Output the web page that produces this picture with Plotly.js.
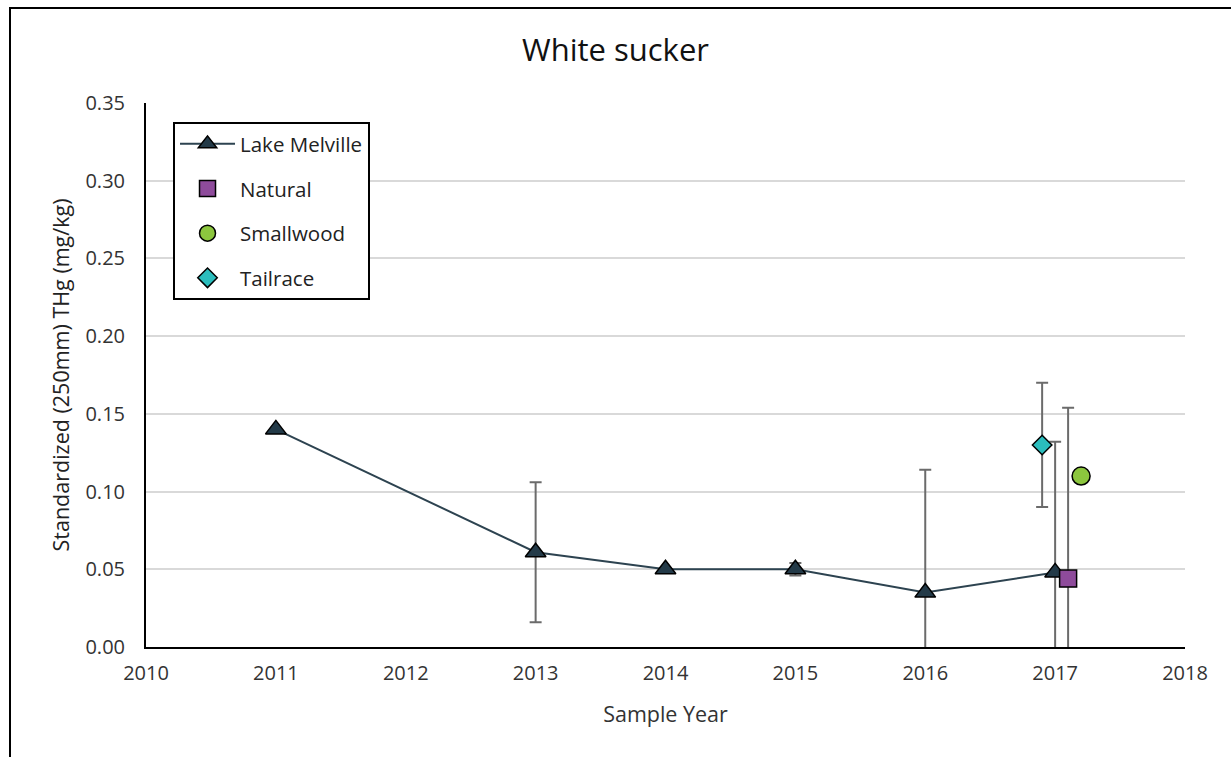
<!DOCTYPE html>
<html>
<head>
<meta charset="utf-8">
<script src="https://cdn.plot.ly/plotly-3.0.1.min.js"></script>
<style>
  html, body { margin: 0; padding: 0; background: #fff; }
  #chart { width: 1231px; height: 757px; }
</style>
</head>
<body>
<div id="chart"></div>
<script>
// Lake Melville series
const lakeYears = [2011, 2013, 2014, 2015, 2016, 2017];
const lakeValues = [0.140, 0.061, 0.050, 0.050, 0.035, 0.048];
const lakeErrors = [0, 0.045, 0, 0.004, 0.079, 0.084];

// Single-site series (offset slightly around 2017)
const naturalYears = [2017.1];
const naturalValues = [0.044];
const naturalErrors = [0.110];

const smallwoodYears = [2017.2];
const smallwoodValues = [0.110];

const tailraceYears = [2016.9];
const tailraceValues = [0.130];
const tailraceErrors = [0.040];

const xTicks = [2010, 2011, 2012, 2013, 2014, 2015, 2016, 2017, 2018];
const yTicks = [0, 0.05, 0.10, 0.15, 0.20, 0.25, 0.30, 0.35];

const errStyle = { type: 'data', visible: true, color: '#6b6b6b', thickness: 2, width: 6 };

const traces = [
  {
    x: lakeYears, y: lakeValues, name: 'Lake Melville', legendgroup: 'a',
    type: 'scatter', mode: 'lines+markers',
    line: { color: '#2d4350', width: 2 },
    marker: { symbol: 'triangle-up', size: 18, color: '#233a48', line: { color: '#000', width: 1.5 } },
    error_y: Object.assign({ array: lakeErrors }, errStyle)
  },
  {
    x: naturalYears, y: naturalValues, name: 'Natural', legendgroup: 'b',
    type: 'scatter', mode: 'markers',
    marker: { symbol: 'square', size: 17, color: '#8e4b9b', line: { color: '#000', width: 1.5 } },
    error_y: Object.assign({ array: naturalErrors }, errStyle)
  },
  {
    x: smallwoodYears, y: smallwoodValues, name: 'Smallwood', legendgroup: 'c',
    type: 'scatter', mode: 'markers',
    marker: { symbol: 'circle', size: 18, color: '#8cc63e', line: { color: '#000', width: 1.5 } }
  },
  {
    x: tailraceYears, y: tailraceValues, name: 'Tailrace', legendgroup: 'd',
    type: 'scatter', mode: 'markers',
    marker: { symbol: 'diamond', size: 15, color: '#2bbdbd', line: { color: '#000', width: 1.5 } },
    error_y: Object.assign({ array: tailraceErrors }, errStyle)
  }
];

const font = '"Open Sans", Lato, sans-serif';

const layout = {
  width: 1231, height: 757,
  margin: { l: 146, r: 46, t: 103, b: 110 },
  paper_bgcolor: '#ffffff', plot_bgcolor: '#ffffff',
  font: { family: font, color: '#222', size: 20 },
  title: { text: 'White sucker', x: 0.5, xanchor: 'center', y: 0.934, yanchor: 'middle',
           font: { family: font, size: 31, color: '#111' } },
  xaxis: {
    range: [2010, 2018], tickvals: xTicks, ticktext: xTicks.map(String),
    showgrid: false, zeroline: false, showline: true, linecolor: '#000', linewidth: 2,
    ticks: 'outside', ticklen: 7, tickcolor: 'rgba(0,0,0,0)',
    tickfont: { size: 20, color: '#333' },
    title: { text: 'Sample Year', font: { size: 21.5, color: '#333' }, standoff: 22 }
  },
  yaxis: {
    range: [0, 0.35], tickvals: yTicks, ticktext: yTicks.map(v => v.toFixed(2)),
    showgrid: true, gridcolor: '#d9d9d9', gridwidth: 2,
    zeroline: false, showline: true, linecolor: '#000', linewidth: 2,
    ticks: 'outside', ticklen: 15, tickcolor: 'rgba(0,0,0,0)',
    tickfont: { size: 20, color: '#333' },
    title: { text: 'Standardized (250mm) THg (mg/kg)', font: { size: 21.5, color: '#222' }, standoff: 10 }
  },
  showlegend: true,
  legend: {
    x: 0.026, y: 0.965, xanchor: 'left', yanchor: 'top',
    bgcolor: '#ffffff', bordercolor: '#000', borderwidth: 2,
    font: { size: 20.5, color: '#222' },
    tracegroupgap: 15, traceorder: 'grouped', itemwidth: 55
  },
  shapes: [
    { type: 'rect', xref: 'paper', yref: 'paper',
      x0: (10 - 146) / 1039, x1: (1245 - 146) / 1039,
      y0: (647 - 780) / 544, y1: (647 - 8) / 544,
      line: { color: '#000', width: 2 }, fillcolor: 'rgba(0,0,0,0)', layer: 'below' }
  ]
};

Plotly.newPlot('chart', traces, layout, { displayModeBar: false, staticPlot: true });
</script>
</body>
</html>
